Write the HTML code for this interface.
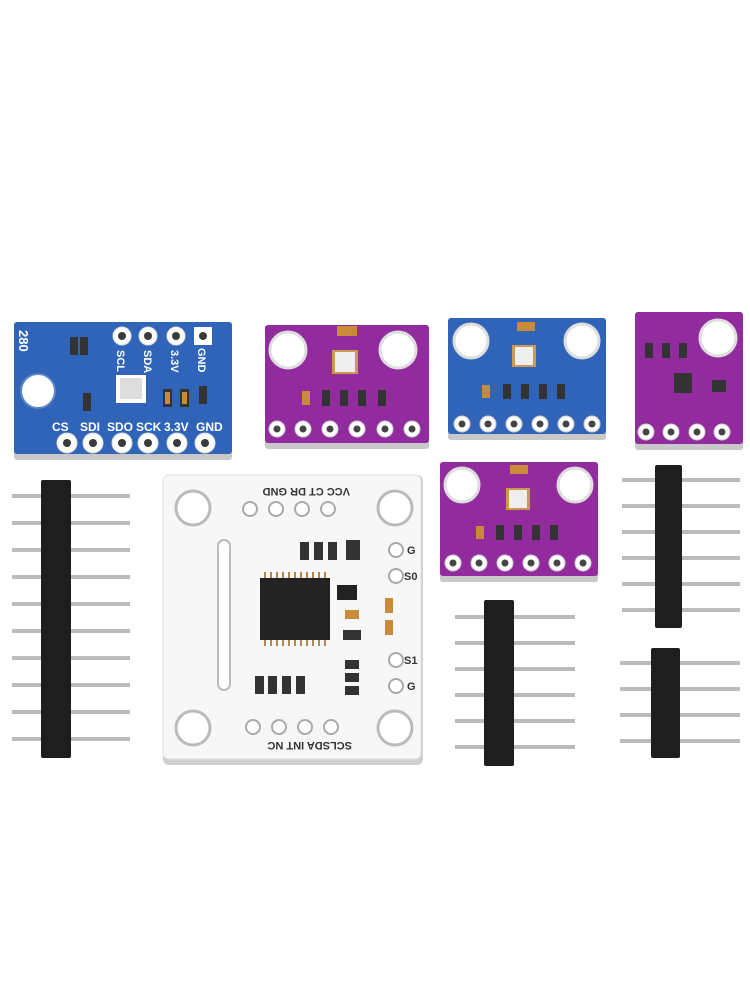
<!DOCTYPE html>
<html><head><meta charset="utf-8"><style>
html,body{margin:0;padding:0;background:#fff;}
svg{display:block}
text{font-family:"Liberation Sans",sans-serif;font-weight:bold;}
</style></head><body>
<svg width="750" height="1000" viewBox="0 0 750 1000" xmlns="http://www.w3.org/2000/svg">
<rect width="750" height="1000" fill="#fff"/>
<defs>
<radialGradient id="hole" cx="50%" cy="50%" r="50%"><stop offset="0.55" stop-color="#fff"/><stop offset="0.6" stop-color="#d8d8d8"/><stop offset="1" stop-color="#f4f4f4"/></radialGradient>
</defs>

<!-- Board 1 blue -->
<rect x="14" y="322" width="218" height="138" rx="3" fill="#c8c8c8"/>
<rect x="14" y="322" width="218" height="132" rx="3" fill="#2f64b8"/>
<circle cx="38" cy="391" r="17" fill="#fff" stroke="#5a86c8" stroke-width="2"/>
<g fill="#fff" stroke="#ddd" stroke-width="1">
<circle cx="122" cy="336" r="9"/><circle cx="148" cy="336" r="9"/><circle cx="176" cy="336" r="9"/>
<circle cx="67" cy="443" r="10"/><circle cx="93" cy="443" r="10"/><circle cx="122" cy="443" r="10"/><circle cx="148" cy="443" r="10"/><circle cx="177" cy="443" r="10"/><circle cx="205" cy="443" r="10"/>
</g>
<rect x="194" y="327" width="18" height="18" fill="#fff"/>
<g fill="#3a3a3a"><circle cx="122" cy="336" r="4"/><circle cx="148" cy="336" r="4"/><circle cx="176" cy="336" r="4"/><circle cx="203" cy="336" r="4"/>
<circle cx="67" cy="443" r="4"/><circle cx="93" cy="443" r="4"/><circle cx="122" cy="443" r="4"/><circle cx="148" cy="443" r="4"/><circle cx="177" cy="443" r="4"/><circle cx="205" cy="443" r="4"/></g>
<rect x="116" y="375" width="30" height="28" fill="#fff"/><rect x="120" y="378" width="22" height="21" fill="#ddd"/>
<g fill="#333"><rect x="70" y="337" width="8" height="18"/><rect x="80" y="337" width="8" height="18"/><rect x="83" y="393" width="8" height="18"/><rect x="163" y="389" width="9" height="18"/><rect x="180" y="389" width="9" height="18"/><rect x="199" y="386" width="8" height="18"/></g>
<g fill="#c98a3a"><rect x="165" y="392" width="5" height="12"/><rect x="182" y="392" width="5" height="12"/></g>
<text x="52" y="431" font-size="12" fill="#fff">CS</text><text x="80" y="431" font-size="12" fill="#fff">SDI</text><text x="107" y="431" font-size="12" fill="#fff">SDO</text><text x="136" y="431" font-size="12" fill="#fff">SCK</text><text x="164" y="431" font-size="12" fill="#fff">3.3V</text><text x="196" y="431" font-size="12" fill="#fff">GND</text>
<g font-size="11" fill="#fff"><text transform="translate(117,350) rotate(90)">SCL</text><text transform="translate(144,350) rotate(90)">SDA</text><text transform="translate(171,350) rotate(90)">3.3V</text><text transform="translate(198,348) rotate(90)">GND</text><text transform="translate(19,330) rotate(90)" font-size="13">280</text></g>

<!-- Board 2 purple -->
<rect x="265" y="325" width="164" height="124" rx="3" fill="#c8c8c8"/>
<rect x="265" y="325" width="164" height="118" rx="3" fill="#922c9e"/>
<circle cx="288" cy="350" r="18" fill="#fff" stroke="#ddd" stroke-width="3"/><circle cx="398" cy="350" r="18" fill="#fff" stroke="#ddd" stroke-width="3"/>
<rect x="332" y="350" width="26" height="24" fill="#c89a50"/><rect x="335" y="352" width="20" height="20" fill="#eee"/>
<rect x="337" y="326" width="20" height="10" fill="#c98a3a"/>
<g fill="#333"><rect x="322" y="390" width="8" height="16"/><rect x="340" y="390" width="8" height="16"/><rect x="358" y="390" width="8" height="16"/><rect x="378" y="390" width="8" height="16"/></g><rect x="302" y="391" width="8" height="14" fill="#c98a3a"/>
<g fill="#fff" stroke="#ccc"><circle cx="277" cy="429" r="8"/><circle cx="303" cy="429" r="8"/><circle cx="330" cy="429" r="8"/><circle cx="357" cy="429" r="8"/><circle cx="385" cy="429" r="8"/><circle cx="412" cy="429" r="8"/></g>
<g fill="#444"><circle cx="277" cy="429" r="3.5"/><circle cx="303" cy="429" r="3.5"/><circle cx="330" cy="429" r="3.5"/><circle cx="357" cy="429" r="3.5"/><circle cx="385" cy="429" r="3.5"/><circle cx="412" cy="429" r="3.5"/></g>

<!-- Board 3 blue -->
<rect x="448" y="318" width="158" height="122" rx="3" fill="#c8c8c8"/>
<rect x="448" y="318" width="158" height="116" rx="3" fill="#2f64b8"/>
<circle cx="471" cy="341" r="17" fill="#fff" stroke="#ddd" stroke-width="3"/><circle cx="582" cy="341" r="17" fill="#fff" stroke="#ddd" stroke-width="3"/>
<rect x="512" y="345" width="24" height="22" fill="#c89a50"/><rect x="515" y="347" width="18" height="18" fill="#eee"/>
<rect x="517" y="322" width="18" height="9" fill="#c98a3a"/>
<g fill="#333"><rect x="503" y="384" width="8" height="15"/><rect x="521" y="384" width="8" height="15"/><rect x="539" y="384" width="8" height="15"/><rect x="557" y="384" width="8" height="15"/></g><rect x="482" y="385" width="8" height="13" fill="#c98a3a"/>
<g fill="#fff" stroke="#ccc"><circle cx="462" cy="424" r="8"/><circle cx="488" cy="424" r="8"/><circle cx="514" cy="424" r="8"/><circle cx="540" cy="424" r="8"/><circle cx="566" cy="424" r="8"/><circle cx="592" cy="424" r="8"/></g>
<g fill="#444"><circle cx="462" cy="424" r="3.5"/><circle cx="488" cy="424" r="3.5"/><circle cx="514" cy="424" r="3.5"/><circle cx="540" cy="424" r="3.5"/><circle cx="566" cy="424" r="3.5"/><circle cx="592" cy="424" r="3.5"/></g>

<!-- Board 4 purple small -->
<rect x="635" y="312" width="108" height="138" rx="3" fill="#c8c8c8"/>
<rect x="635" y="312" width="108" height="132" rx="3" fill="#922c9e"/>
<circle cx="718" cy="338" r="18" fill="#fff" stroke="#ddd" stroke-width="3"/>
<g fill="#333"><rect x="645" y="343" width="8" height="15"/><rect x="662" y="343" width="8" height="15"/><rect x="679" y="343" width="8" height="15"/><rect x="674" y="373" width="18" height="20"/><rect x="712" y="380" width="14" height="12"/></g>
<g fill="#fff" stroke="#ccc"><circle cx="646" cy="432" r="8"/><circle cx="671" cy="432" r="8"/><circle cx="697" cy="432" r="8"/><circle cx="722" cy="432" r="8"/></g>
<g fill="#444"><circle cx="646" cy="432" r="3.5"/><circle cx="671" cy="432" r="3.5"/><circle cx="697" cy="432" r="3.5"/><circle cx="722" cy="432" r="3.5"/></g>

<!-- Board 5 purple -->
<rect x="440" y="462" width="158" height="120" rx="3" fill="#c8c8c8"/>
<rect x="440" y="462" width="158" height="114" rx="3" fill="#922c9e"/>
<circle cx="462" cy="485" r="17" fill="#fff" stroke="#ddd" stroke-width="3"/><circle cx="575" cy="485" r="17" fill="#fff" stroke="#ddd" stroke-width="3"/>
<rect x="506" y="488" width="24" height="22" fill="#c89a50"/><rect x="509" y="490" width="18" height="18" fill="#eee"/>
<rect x="510" y="465" width="18" height="9" fill="#c98a3a"/>
<g fill="#333"><rect x="496" y="525" width="8" height="15"/><rect x="514" y="525" width="8" height="15"/><rect x="532" y="525" width="8" height="15"/><rect x="550" y="525" width="8" height="15"/></g><rect x="476" y="526" width="8" height="13" fill="#c98a3a"/>
<g fill="#fff" stroke="#ccc"><circle cx="453" cy="563" r="8"/><circle cx="479" cy="563" r="8"/><circle cx="505" cy="563" r="8"/><circle cx="531" cy="563" r="8"/><circle cx="557" cy="563" r="8"/><circle cx="583" cy="563" r="8"/></g>
<g fill="#444"><circle cx="453" cy="563" r="3.5"/><circle cx="479" cy="563" r="3.5"/><circle cx="505" cy="563" r="3.5"/><circle cx="531" cy="563" r="3.5"/><circle cx="557" cy="563" r="3.5"/><circle cx="583" cy="563" r="3.5"/></g>

<!-- White board -->
<rect x="163" y="475" width="260" height="290" rx="6" fill="#cfcfcf"/>
<rect x="163" y="475" width="258" height="284" rx="6" fill="#f7f7f7" stroke="#e0e0e0"/>
<g fill="#fff" stroke="#bbb" stroke-width="3"><circle cx="193" cy="508" r="17"/><circle cx="395" cy="508" r="17"/><circle cx="193" cy="728" r="17"/><circle cx="395" cy="728" r="17"/></g>
<rect x="218" y="540" width="12" height="150" rx="6" fill="#fff" stroke="#bbb" stroke-width="2"/>
<g fill="#fff" stroke="#aaa" stroke-width="2"><circle cx="250" cy="509" r="7"/><circle cx="276" cy="509" r="7"/><circle cx="302" cy="509" r="7"/><circle cx="328" cy="509" r="7"/>
<circle cx="253" cy="727" r="7"/><circle cx="279" cy="727" r="7"/><circle cx="305" cy="727" r="7"/><circle cx="331" cy="727" r="7"/>
<circle cx="396" cy="550" r="7"/><circle cx="396" cy="576" r="7"/><circle cx="396" cy="660" r="7"/><circle cx="396" cy="686" r="7"/></g>
<g font-size="11" fill="#333"><text transform="translate(350,488) rotate(180)">VCC CT DR GND</text><text transform="translate(352,742) rotate(180)">SCLSDA INT NC</text>
<text x="407" y="554">G</text><text x="404" y="580">S0</text><text x="404" y="664">S1</text><text x="407" y="690">G</text></g>
<rect x="260" y="578" width="70" height="62" fill="#222"/>
<g stroke="#b08850" stroke-width="2"><path d="M265 578v-6M271 578v-6M277 578v-6M283 578v-6M289 578v-6M295 578v-6M301 578v-6M307 578v-6M313 578v-6M319 578v-6M325 578v-6M265 640v6M271 640v6M277 640v6M283 640v6M289 640v6M295 640v6M301 640v6M307 640v6M313 640v6M319 640v6M325 640v6"/></g>
<rect x="337" y="585" width="20" height="15" fill="#222"/>
<g fill="#333"><rect x="300" y="542" width="9" height="18"/><rect x="314" y="542" width="9" height="18"/><rect x="328" y="542" width="9" height="18"/><rect x="346" y="540" width="14" height="20"/><rect x="345" y="660" width="14" height="9"/><rect x="345" y="673" width="14" height="9"/><rect x="345" y="686" width="14" height="9"/><rect x="255" y="676" width="9" height="18"/><rect x="268" y="676" width="9" height="18"/><rect x="282" y="676" width="9" height="18"/><rect x="296" y="676" width="9" height="18"/><rect x="343" y="630" width="18" height="10"/></g>
<g fill="#c98a3a"><rect x="385" y="598" width="8" height="15"/><rect x="385" y="620" width="8" height="15"/><rect x="345" y="610" width="14" height="9"/></g>

<!-- Headers -->
<g fill="#bbb">
<rect x="12" y="494" width="118" height="4"/><rect x="12" y="521" width="118" height="4"/><rect x="12" y="548" width="118" height="4"/><rect x="12" y="575" width="118" height="4"/><rect x="12" y="602" width="118" height="4"/><rect x="12" y="629" width="118" height="4"/><rect x="12" y="656" width="118" height="4"/><rect x="12" y="683" width="118" height="4"/><rect x="12" y="710" width="118" height="4"/><rect x="12" y="737" width="118" height="4"/>
<rect x="455" y="615" width="120" height="4"/><rect x="455" y="641" width="120" height="4"/><rect x="455" y="667" width="120" height="4"/><rect x="455" y="693" width="120" height="4"/><rect x="455" y="719" width="120" height="4"/><rect x="455" y="745" width="120" height="4"/>
<rect x="622" y="478" width="118" height="4"/><rect x="622" y="504" width="118" height="4"/><rect x="622" y="530" width="118" height="4"/><rect x="622" y="556" width="118" height="4"/><rect x="622" y="582" width="118" height="4"/><rect x="622" y="608" width="118" height="4"/>
<rect x="620" y="661" width="120" height="4"/><rect x="620" y="687" width="120" height="4"/><rect x="620" y="713" width="120" height="4"/><rect x="620" y="739" width="120" height="4"/>
</g>
<rect x="41" y="480" width="30" height="278" rx="2" fill="#1e1e1e"/>
<rect x="484" y="600" width="30" height="166" rx="2" fill="#1e1e1e"/>
<rect x="655" y="465" width="27" height="163" rx="2" fill="#1e1e1e"/>
<rect x="651" y="648" width="29" height="110" rx="2" fill="#1e1e1e"/>
</svg>
</body></html>
